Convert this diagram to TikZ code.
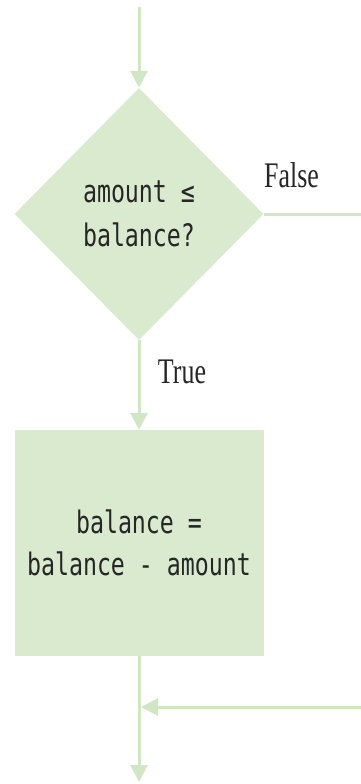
\documentclass[tikz,border=0pt]{standalone}
\usepackage{fontspec}
\usetikzlibrary{shapes.geometric,arrows.meta}
\newfontfamily\codefont[FakeStretch=0.75]{DejaVu Sans Mono}
\newfontfamily\lblfont[FakeStretch=0.72]{Liberation Serif}
\definecolor{boxfill}{RGB}{217,234,207}
\definecolor{flowline}{RGB}{208,230,197}
\tikzset{
  flow/.style={draw=flowline, line width=3pt},
  flowarrow/.style={flow, -{Triangle[width=17pt,length=17pt]}},
  decision/.style={diamond, fill=boxfill, inner sep=0pt, minimum width=249pt, minimum height=252pt, align=center, font=\codefont\fontsize{31}{44}\selectfont, text=black!85},
  process/.style={rectangle, fill=boxfill, inner sep=0pt, minimum width=249pt, minimum height=226pt, align=center, font=\codefont\fontsize{31}{42}\selectfont, text=black!85},
  lbl/.style={anchor=base, inner sep=0pt, font=\lblfont\fontsize{36}{40}\selectfont, text=black!85}
}
\begin{document}
\begin{tikzpicture}[x=1pt,y=1pt]
\useasboundingbox (0,0) rectangle (361,-784);
\coordinate (start) at (139,-7);
\node[decision] (cond) at (139,-214) {amount ≤\\balance?};
\node[process] (upd) at (139,-543) {balance =\\balance - amount};
\coordinate (falseend) at (361,-214);
\coordinate (mergein) at (361,-707);
\coordinate (merge) at (139,-707);
\coordinate (endpt) at (139,-782);
\draw[flowarrow] (start) -- (cond.north);
\draw[flow] (cond.east) -- (falseend);
\draw[flowarrow] (cond.south) -- (upd.north);
\draw[flowarrow] (upd.south) -- (endpt);
\draw[flowarrow, shorten >=2pt] (mergein) -- (merge);
\node[lbl] (flbl) at (291.5,-187) {False};
\node[lbl] (tlbl) at (182,-383) {True};
\end{tikzpicture}
\end{document}
